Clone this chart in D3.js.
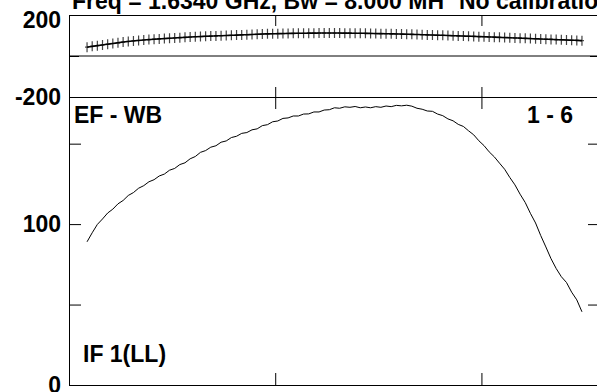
<!DOCTYPE html>
<html lang="en">
<head>
    <meta charset="UTF-8">
    <script type="text/javascript" src="https://cdn.jsdelivr.net/npm/d3@7/dist/d3.min.js"></script>
    <title>possm</title>
    <style>
        body { margin: 0; background: #fff; }
        text { font-family: "Liberation Sans", Arial, sans-serif; font-weight: bold; }
    </style>
</head>
<body>

</body>
<script>

    // channel numbers and values
    let channels = d3.range(1, 98);

    let amp = [89, 94.6, 99.8, 103.2, 106.9, 109.3, 112.6, 114.7, 117.8, 119.6,
        122.3, 123.9, 126.3, 127.6, 129.9, 131.1, 133.5, 134.6, 137.0, 138.1,
        140.6, 142.0, 144.6, 145.7, 147.8, 148.7, 150.9, 151.7, 153.8, 154.6,
        156.4, 156.9, 158.6, 159.2, 161.2, 161.8, 163.6, 164.1, 165.7, 166.0,
        167.2, 167.2, 168.4, 168.5, 169.7, 169.7, 170.9, 171.1, 172.3, 172.0,
        172.9, 172.6, 173.1, 172.3, 172.8, 172.3, 173.0, 172.6, 173.4, 173.0,
        173.8, 173.5, 173.9, 173.3, 172.0, 171.4, 170.3, 170.1, 168.4, 167.4,
        165.4, 164.2, 162.0, 160.7, 158.0, 155.5, 151.8, 148.8, 144.9, 141.8,
        137.9, 134.1, 129.0, 124.4, 118.6, 113.4, 106.7, 100.7, 92.9, 85.8,
        78.5, 72.4, 67.3, 63.7, 57.7, 52.9, 45.5];

    let phase = [43, 47, 50.5, 54, 57.5, 61, 64.5, 68, 71, 73.5,
        76, 78, 80, 82, 83.5, 85, 86.5, 88, 89.5, 91,
        92.5, 94, 95, 96, 97, 98, 99, 100, 101, 102,
        103, 104, 105, 106, 107, 108, 108.5, 109, 109.5, 110,
        110.5, 111, 111, 111.5, 111.5, 112, 112, 112, 112, 112,
        111.5, 111.5, 111, 111, 110.5, 110, 109.5, 109, 108.5, 108,
        107.5, 107, 106, 105.5, 105, 104, 103, 102.5, 101.5, 101,
        100, 99, 98, 97.5, 96.5, 95.5, 94.5, 94, 93, 92,
        91, 90, 89, 88, 87, 86, 85, 84, 83, 82,
        81, 80, 79, 78, 77, 76, 75];

    let xTicks = [37.5, 77.5],
        phaseTicks = [-200, 0, 200],
        phaseLabels = [-200, 200],
        ampTicks = [0, 50, 100, 150],
        ampLabels = [0, 100];

    let title = "Freq = 1.6340 GHz, Bw = 8.000 MH",
        title2 = "No calibration",
        baseline = "EF - WB",
        pol = "IF 1(LL)",
        panel = "1 - 6";

    let width = 597,
        height = 392,
        fontSize = "23px";

    let x = d3.scaleLinear()
            .domain([-2.5, 100.5])
            .range([69, 600]),
        yP = d3.scaleLinear()
            .domain([-200, 200])
            .range([97, 15]),
        yA = d3.scaleLinear()
            .domain([0, 179])
            .range([385, 97]);

    let data = channels.map(function (c, i) {
        return {ch: c, amp: amp[i], phase: phase[i]}
    });

    let svg = d3.select("body")
        .append("svg")
        .attr("width", width)
        .attr("height", height)

    svg.append("rect").attr("width", width).attr("height", height).attr("fill", "#fff");

    // phase panel frame
    svg.append("g")
        .attr("transform", "translate(" + x.range()[0] + ",0)")
        .call(d3.axisLeft(yP).tickValues(phaseTicks).tickSizeInner(-10).tickSizeOuter(0).tickPadding(8)
            .tickFormat(d => phaseLabels.includes(d) ? d : ""));
    svg.append("g")
        .attr("transform", "translate(" + x.range()[1] + ",0)")
        .call(d3.axisRight(yP).tickValues(phaseTicks).tickSizeInner(-10).tickSizeOuter(0).tickFormat(""));
    svg.append("g")
        .attr("transform", "translate(0," + yP(200) + ")")
        .call(d3.axisTop(x).tickValues(xTicks).tickSizeInner(-11).tickSizeOuter(0).tickFormat(""));
    svg.append("g")
        .attr("transform", "translate(0," + yP(-200) + ")")
        .call(d3.axisBottom(x).tickValues(xTicks).tickSizeInner(-10).tickSizeOuter(0).tickFormat(""));
    svg.append("line")
        .attr("x1", x.range()[0]).attr("x2", x.range()[1])
        .attr("y1", yP(0)).attr("y2", yP(0))
        .attr("stroke", "#000");

    // amplitude panel frame
    svg.append("g")
        .attr("transform", "translate(" + x.range()[0] + ",0)")
        .call(d3.axisLeft(yA).tickValues(ampTicks).tickSizeInner(-12).tickSizeOuter(0).tickPadding(8)
            .tickFormat(d => ampLabels.includes(d) ? d : ""));
    svg.append("g")
        .attr("transform", "translate(" + x.range()[1] + ",0)")
        .call(d3.axisRight(yA).tickValues(ampTicks).tickSizeInner(-12).tickSizeOuter(0).tickFormat(""));
    svg.append("g")
        .attr("transform", "translate(0," + yA.range()[1] + ")")
        .call(d3.axisTop(x).tickValues(xTicks).tickSizeInner(-12).tickSizeOuter(0).tickFormat(""));
    svg.append("g")
        .attr("transform", "translate(0," + yA.range()[0] + ")")
        .call(d3.axisBottom(x).tickValues(xTicks).tickSizeInner(-12).tickSizeOuter(0).tickFormat(""));

    svg.selectAll(".domain, .tick line").attr("stroke", "#000");
    svg.selectAll(".tick text")
        .attr("fill", "#000")
        .style("font-size", fontSize)
        .style("font-family", "'Liberation Sans', Arial, sans-serif")
        .style("font-weight", "bold");
    // top label sits a bit lower in the original
    svg.selectAll(".tick text").filter(d => d === 200).attr("dy", "0.55em");

    // phase markers and line
    svg.selectAll("path.mark")
        .data(data)
        .enter()
        .append("path")
        .attr("class", "mark")
        .attr("d", d => {
            let px = x(d.ch), py = yP(d.phase);
            return "M" + px + "," + (py - 5) + "V" + (py + 5) + "M" + (px - 2) + "," + py + "H" + (px + 2);
        })
        .attr("stroke", "#444")
        .attr("stroke-width", 1.2)
        .attr("fill", "none");

    let phaseLine = d3.line()
        .x(d => x(d.ch))
        .y(d => yP(d.phase))
        .curve(d3.curveBasis);

    svg.append("path")
        .datum(data)
        .attr("d", phaseLine)
        .attr("fill", "none")
        .attr("stroke", "#000")
        .attr("stroke-width", 1.6);

    // amplitude line
    let ampLine = d3.line()
        .x(d => x(d.ch))
        .y(d => yA(d.amp));

    svg.append("path")
        .datum(data)
        .attr("d", ampLine)
        .attr("fill", "none")
        .attr("stroke", "#000")
        .attr("stroke-width", 1);

    // labels
    svg.append("text").attr("x", 72).attr("y", 9).style("font-size", fontSize).text(title);
    svg.append("text").attr("x", 459).attr("y", 9).style("font-size", fontSize).text(title2);
    svg.append("text").attr("x", 74).attr("y", 123).style("font-size", fontSize).text(baseline);
    svg.append("text").attr("x", 573).attr("y", 123).attr("text-anchor", "end").style("font-size", fontSize).text(panel);
    svg.append("text").attr("x", 83).attr("y", 362).style("font-size", fontSize).text(pol);

</script>
</html>
